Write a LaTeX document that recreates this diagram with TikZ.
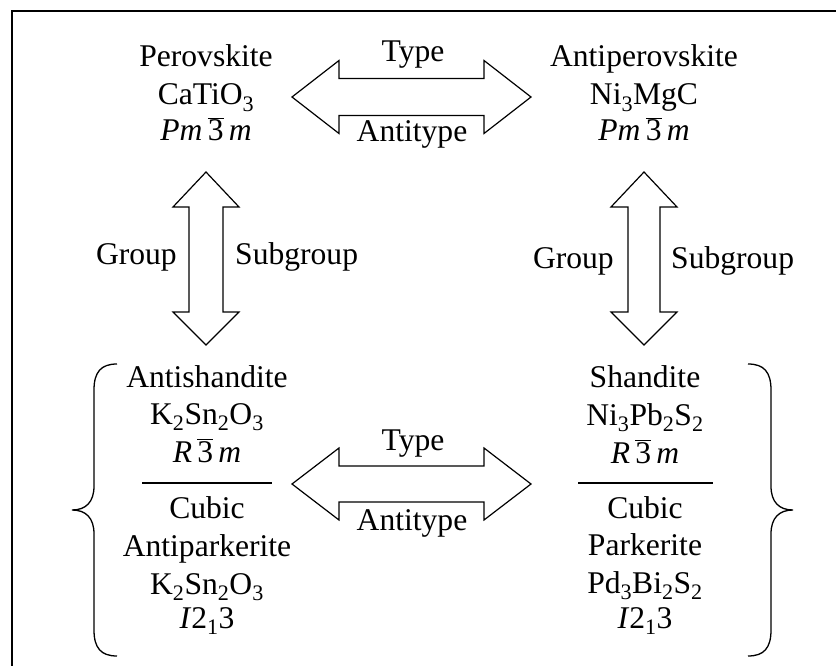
\documentclass[tikz,border=0pt]{standalone}
\usepackage{fontspec}
\setmainfont{Liberation Serif}
\newcommand{\sg}[2]{\textit{#1}\,$\overline{\mbox{3}}$\,\textit{#2}}
\begin{document}
\begin{tikzpicture}[x=1pt,y=-1pt,
  txt/.style={anchor=base,inner sep=0pt,font=\fontsize{31.6}{38}\selectfont},
  txtr/.style={txt,anchor=base east},
  txtl/.style={txt,anchor=base west},
  blockarrow/.style={draw,line width=1.2pt,line join=miter},
  bracel/.style={draw,line width=1.3pt},
  divider/.style={draw,line width=1.2pt},
  frameline/.style={draw,line width=1.8pt}]
\useasboundingbox (0,0) rectangle (836,666);
% frame (only left and top visible)
\draw[frameline] (12,666) -- (12,11) -- (836,11);

% top-left block
\node[txt] (pv1) at (206,67) {Perovskite};
\node[txt] (pv2) at (206,105) {CaTiO\textsubscript{3}};
\node[txt] (pv3) at (206,141) {\sg{Pm}{m}};
% top-right block
\node[txt] (ap1) at (644,67) {Antiperovskite};
\node[txt] (ap2) at (644,105) {Ni\textsubscript{3}MgC};
\node[txt] (ap3) at (644,141) {\sg{Pm}{m}};

% top horizontal double arrow
\draw[blockarrow] (292,97) -- (339,60.5) -- (339,78.5) -- (484,78.5) -- (484,60.5)
  -- (531,97) -- (484,133.5) -- (484,115.5) -- (339,115.5) -- (339,133.5) -- cycle;
\node[txt] (t1) at (413,62) {Type};
\node[txt] (a1) at (412,142) {Antitype};

% left vertical double arrow
\draw[blockarrow] (206,172) -- (239,207) -- (223,207) -- (223,312) -- (239,312)
  -- (206,345) -- (173,312) -- (189,312) -- (189,207) -- (173,207) -- cycle;
\node[txtr] (g1) at (177,264) {Group};
\node[txtl] (s1) at (235,264) {Subgroup};

% right vertical double arrow
\draw[blockarrow] (644,172) -- (677,207) -- (660,207) -- (660,312) -- (677,312)
  -- (644,345) -- (611,312) -- (628,312) -- (628,207) -- (611,207) -- cycle;
\node[txtr] (g2) at (614,269) {Group};
\node[txtl] (s2) at (671,269) {Subgroup};

% bottom-left block
\node[txt] (l1) at (207,387) {Antishandite};
\node[txt] (l2) at (207,424) {K\textsubscript{2}Sn\textsubscript{2}O\textsubscript{3}};
\node[txt] (l3) at (207,462) {\sg{R}{m}};
\draw[divider] (142,483) -- (272,483);
\node[txt] (l4) at (207,518) {Cubic};
\node[txt] (l5) at (207,556) {Antiparkerite};
\node[txt] (l6) at (207,594) {K\textsubscript{2}Sn\textsubscript{2}O\textsubscript{3}};
\node[txt] (l7) at (207,628) {\textit{I}2\textsubscript{1}3};

% bottom-right block
\node[txt] (r1) at (645,387) {Shandite};
\node[txt] (r2) at (645,425) {Ni\textsubscript{3}Pb\textsubscript{2}S\textsubscript{2}};
\node[txt] (r3) at (645,463) {\sg{R}{m}};
\draw[divider] (578,483) -- (713,483);
\node[txt] (r4) at (645,518) {Cubic};
\node[txt] (r5) at (645,555) {Parkerite};
\node[txt] (r6) at (645,593) {Pd\textsubscript{3}Bi\textsubscript{2}S\textsubscript{2}};
\node[txt] (r7) at (645,628) {\textit{I}2\textsubscript{1}3};

% bottom horizontal double arrow
\draw[blockarrow] (292,484) -- (339,448) -- (339,466) -- (484,466) -- (484,448)
  -- (531,484) -- (484,520) -- (484,502) -- (339,502) -- (339,520) -- cycle;
\node[txt] (t2) at (413,450) {Type};
\node[txt] (a2) at (412,530) {Antitype};

% braces
\draw[bracel] (117,364) .. controls (101,364) and (94,372) .. (94,390) -- (94,486)
  .. controls (94,502) and (86,510) .. (72,510)
  .. controls (86,510) and (94,518) .. (94,534) -- (94,630)
  .. controls (94,648) and (101,656) .. (117,656);
\draw[bracel] (748,364) .. controls (764,364) and (771,372) .. (771,390) -- (771,486)
  .. controls (771,502) and (779,510) .. (793,510)
  .. controls (779,510) and (771,518) .. (771,534) -- (771,630)
  .. controls (771,648) and (764,656) .. (748,656);
\end{tikzpicture}
\end{document}
